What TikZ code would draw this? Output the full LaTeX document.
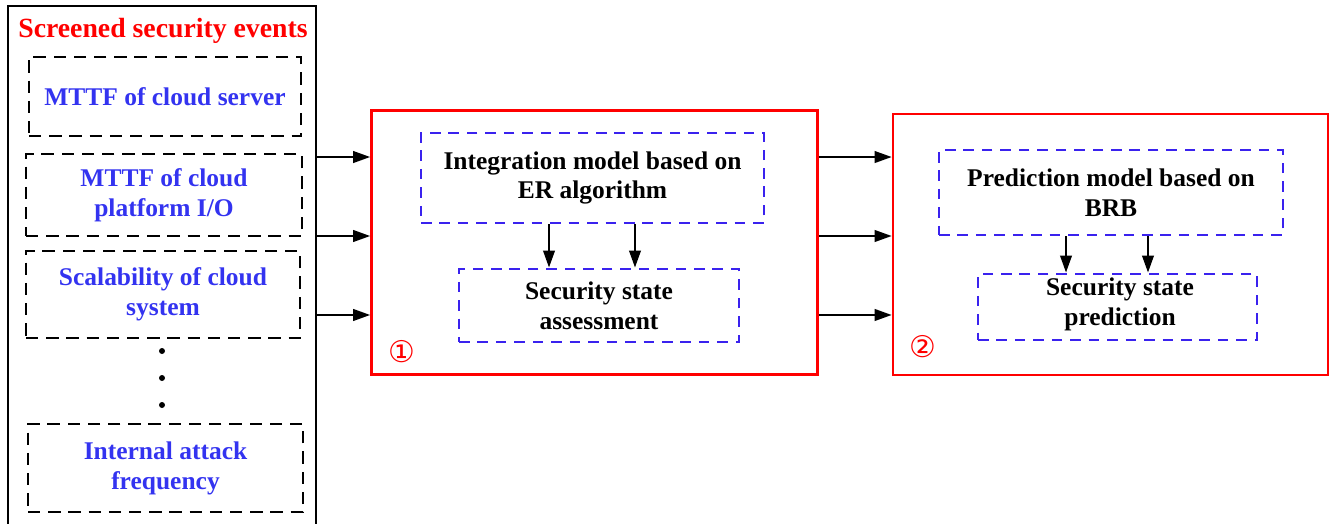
\documentclass[tikz,border=0pt]{standalone}
\usepackage{fontspec}
\setmainfont{Liberation Serif}
\newfontfamily\circfont{DejaVu Sans}
\usepackage{xcolor}
\usepackage{tikz}
\usetikzlibrary{
  arrows.meta,
  positioning,
  calc
}
\definecolor{evRed}{HTML}{FF0000}
\definecolor{evBlue}{HTML}{3333F0}
\definecolor{evDash}{HTML}{3A22EE}
\tikzset{
  evnode/.style={
    rectangle, minimum height=8mm, minimum width=18mm, inner sep=1pt,
    font=\fontsize{14.5}{17}\selectfont\bfseries, align=center
  },
  eventbox/.style={evnode, draw=black, line width=1.6pt, dash pattern=on 7pt off 4.5pt, text=evBlue},
  modelbox/.style={evnode, draw=evDash, line width=1.6pt, dash pattern=on 6pt off 4.5pt, text=black},
  stagebox/.style={evnode, draw=evRed, line width=1.5pt},
  outerbox/.style={evnode, draw=black, line width=1.5pt},
  title/.style={font=\fontsize{15.8}{17}\selectfont\bfseries, text=evRed, inner sep=0pt},
  marker/.style={font=\circfont\fontsize{17}{17}\selectfont, text=evRed, inner sep=0pt},
  flow/.style={-{Triangle[length=3.4mm,width=2.3mm]}, line width=1.3pt, black}
}

\begin{document}
\begin{tikzpicture}[x=0.02cm, y=-0.02cm]
  \useasboundingbox (0,0) rectangle (1336,524);
  \node[outerbox, minimum width=6.16cm, minimum height=10.8cm] (events) at (162,276) {};
  \node[title] (head) at (163,31) {Screened security events};
  \node[eventbox, minimum width=5.44cm, minimum height=1.58cm] (ev1) at (165,96.5) {MTTF of cloud server};
  \node[eventbox, minimum width=5.52cm, minimum height=1.64cm] (ev2) at (164,195) {MTTF of cloud\\platform I/O};
  \node[eventbox, minimum width=5.48cm, minimum height=1.74cm] (ev3) at (163,294.5) {Scalability of cloud\\system};
  \node[eventbox, minimum width=5.5cm, minimum height=1.76cm] (ev4) at (165.5,468) {Internal attack\\frequency};
  \foreach \y in {351,378,405}
    \fill (162,\y) circle[radius=0.06cm];

  \node[stagebox, minimum width=8.92cm, minimum height=5.28cm] (asmt) at (594.5,242.5) {};
  \node[modelbox, minimum width=6.86cm, minimum height=1.8cm] (er) at (592.5,178) {Integration model based on\\ER algorithm};
  \node[modelbox, minimum width=5.6cm, minimum height=1.46cm] (sa) at (599,305.5) {Security state\\assessment};
  \node[marker] (m1) at (402,352) {①};

  \node[stagebox, minimum width=8.7cm, minimum height=5.22cm] (pred) at (1110.5,244.5) {};
  \node[modelbox, minimum width=6.88cm, minimum height=1.7cm] (brb) at (1111,192.5) {Prediction model based on\\BRB};
  \node[modelbox, minimum width=5.58cm, minimum height=1.32cm] (sp) at (1117.5,307) {};
  \node[evnode] (sptext) at (1120,304) {Security state\\prediction};
  \node[marker] (m2) at (923,347) {②};

  \coordinate (in1) at ([yshift=1.71cm]asmt.west);
  \coordinate (in2) at ([yshift=0.13cm]asmt.west);
  \coordinate (in3) at ([yshift=-1.45cm]asmt.west);
  \foreach \c in {in1,in2,in3} {
    \draw[flow] (events.east |- \c) -- (\c);
    \draw[flow] (asmt.east |- \c) -- (pred.west |- \c);
  }
  \draw[flow] ([xshift=-0.87cm]er.south) -- ([xshift=-0.87cm]er.south |- sa.north);
  \draw[flow] ([xshift=0.85cm]er.south) -- ([xshift=0.85cm]er.south |- sa.north);
  \draw[flow] ([xshift=-0.9cm]brb.south) -- ([xshift=-0.9cm]brb.south |- sp.north);
  \draw[flow] ([xshift=0.74cm]brb.south) -- ([xshift=0.74cm]brb.south |- sp.north);
\end{tikzpicture}
\end{document}
